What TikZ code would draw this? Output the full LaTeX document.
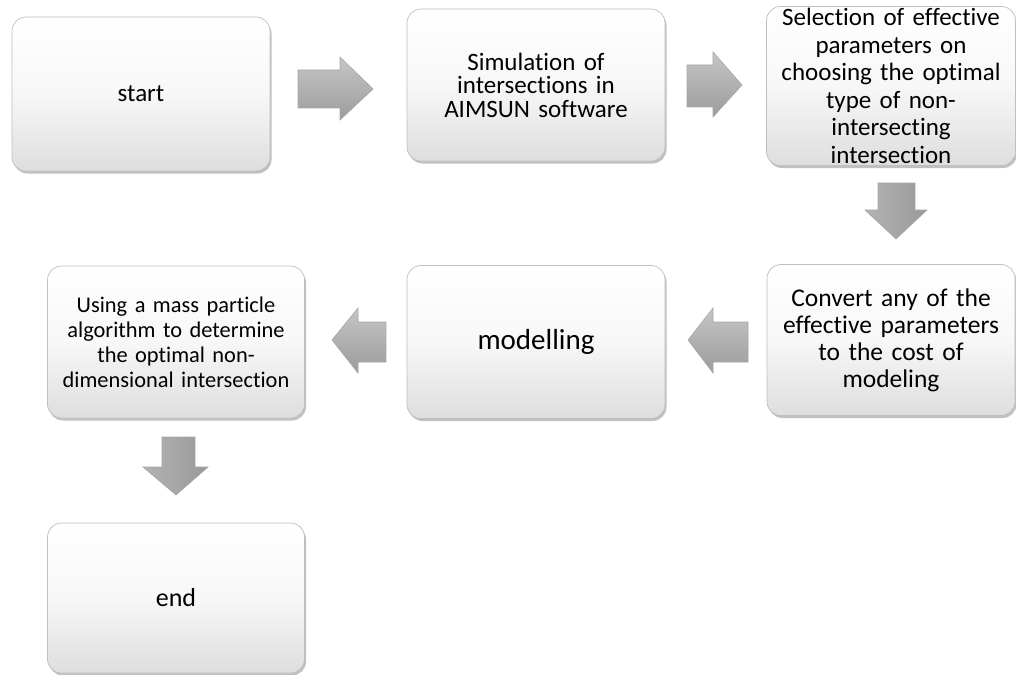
\documentclass[tikz,border=0pt]{standalone}
\usepackage{fontspec}
\setmainfont{Carlito}[Ligatures=NoCommon]
\usetikzlibrary{shadows}
\tikzset{
  flowbox/.style={rounded corners=14pt, top color=white, bottom color=gray!26, middle color=gray!6,
    draw=gray!50, line width=0.7pt, align=center, inner sep=2pt,
    drop shadow={shadow xshift=1.5pt, shadow yshift=-2.5pt, fill=gray!75, opacity=0.65}},
  harrow/.style={top color=gray!45, bottom color=gray!78, draw=gray!70, line width=0.6pt, line join=miter},
  varrow/.style={left color=gray!60, right color=gray!80, draw=gray!70, line width=0.6pt, line join=miter},
}
\begin{document}
\begin{tikzpicture}[x=1pt,y=-1pt]
\useasboundingbox (0,0) rectangle (1016,674);
% boxes
\node[flowbox, minimum width=258pt, minimum height=154pt, font=\fontsize{25}{27}\selectfont] (start) at (141,94) {start};
\node[flowbox, minimum width=258pt, minimum height=152pt, text width=240pt, font=\fontsize{25}{23.5}\selectfont] (sim) at (536,85) {Simulation of\\intersections in\\AIMSUN software};
\node[flowbox, minimum width=248pt, minimum height=152pt, text width=245pt, font=\fontsize{25}{27.5}\selectfont] (sel) at (891,86) {Selection of effective\\parameters on\\choosing the optimal\\type of non-\\intersecting\\intersection};
\node[flowbox, minimum width=248pt, minimum height=151pt, text width=240pt, font=\fontsize{25.5}{27}\selectfont] (conv) at (891,340) {Convert any of the\\effective parameters\\to the cost of\\modeling};
\node[flowbox, minimum width=258pt, minimum height=153pt, font=\fontsize{29}{31}\selectfont] (mod) at (536,342) {modelling};
\node[flowbox, minimum width=257pt, minimum height=152pt, text width=250pt, font=\fontsize{22.4}{25}\selectfont] (using) at (176,342) {Using a mass particle\\algorithm to determine\\the optimal non-\\dimensional intersection};
\node[flowbox, minimum width=257pt, minimum height=150pt, font=\fontsize{26}{28}\selectfont] (end) at (176,598) {end};
% block arrows
\path[harrow] (298,70) -- (340,70) -- (340,57) -- (373,89) -- (340,120) -- (340,108) -- (298,108) -- cycle;
\path[harrow] (687,65) -- (713,65) -- (713,52) -- (742,85) -- (713,117) -- (713,107) -- (687,107) -- cycle;
\path[varrow] (878,183) -- (915,183) -- (915,210) -- (927,210) -- (896,239) -- (865,210) -- (878,210) -- cycle;
\path[harrow] (748,322) -- (713,322) -- (713,308) -- (688,340) -- (713,373) -- (713,362) -- (748,362) -- cycle;
\path[harrow] (386,322) -- (358,322) -- (358,308) -- (332,340) -- (358,373) -- (358,362) -- (386,362) -- cycle;
\path[varrow] (162,437) -- (195,437) -- (195,467) -- (208,467) -- (176,495) -- (143,467) -- (162,467) -- cycle;
\end{tikzpicture}
\end{document}
